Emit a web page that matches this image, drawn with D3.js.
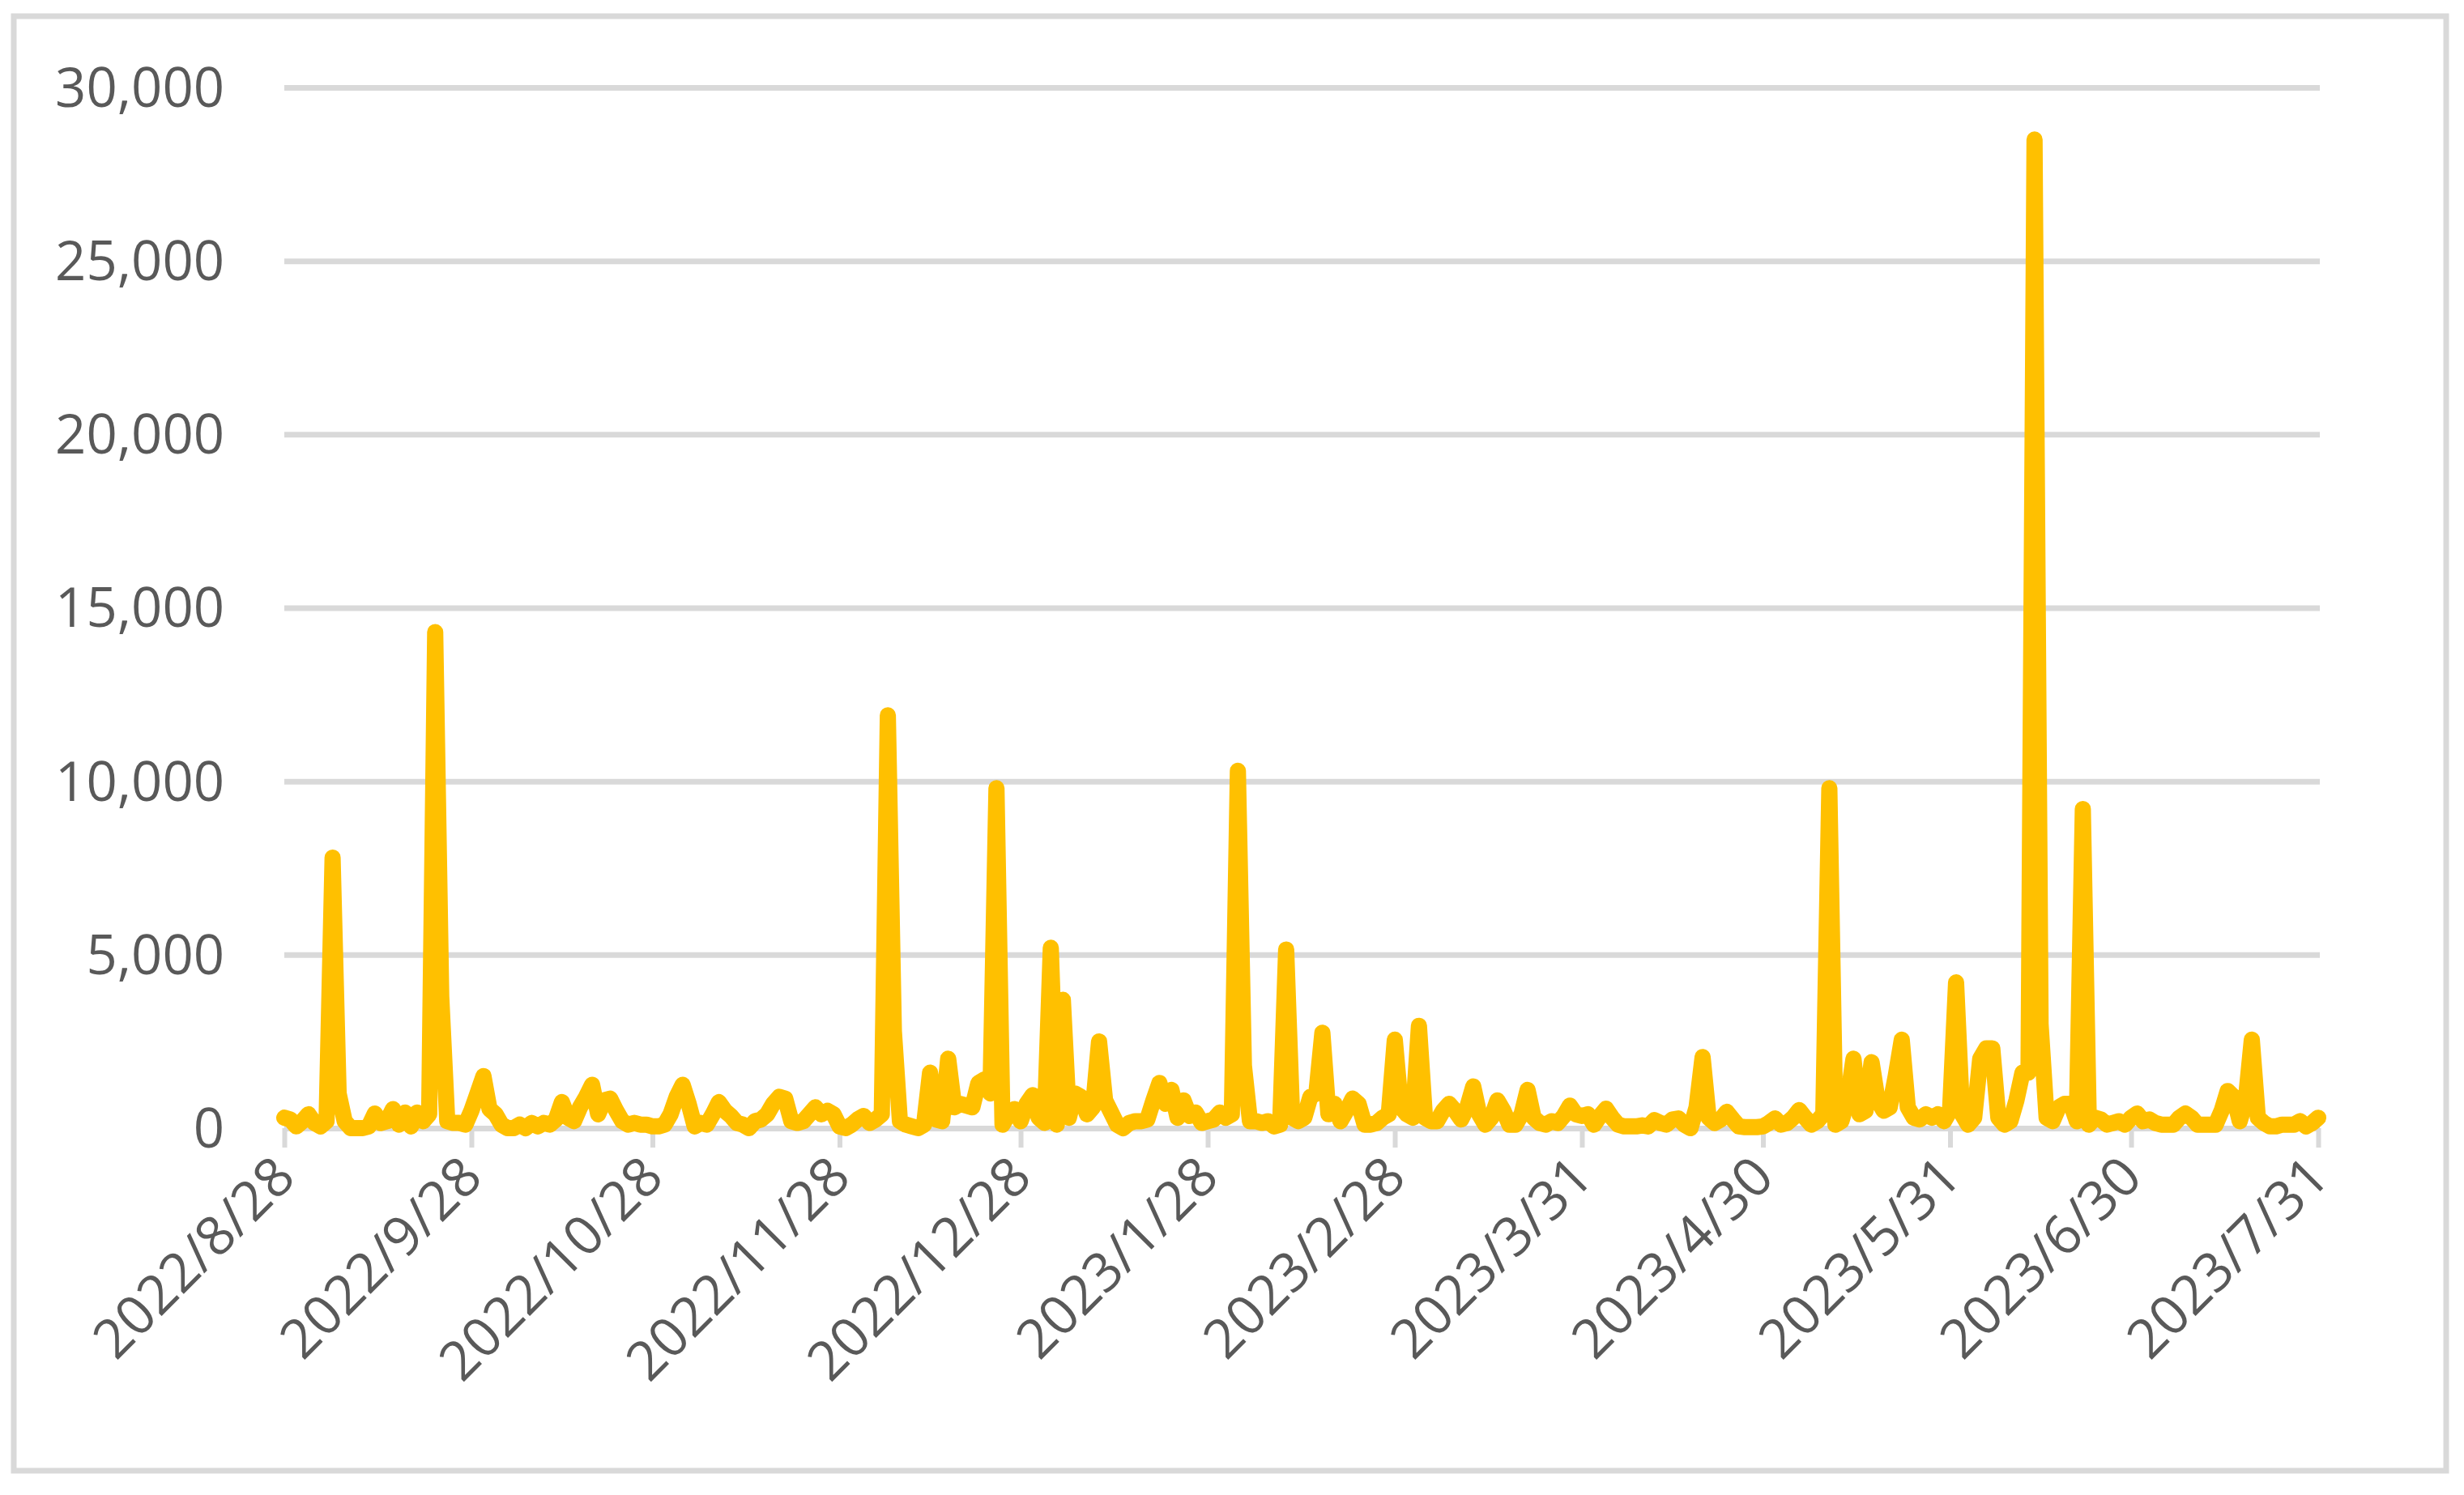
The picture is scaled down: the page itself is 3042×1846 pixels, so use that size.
<!DOCTYPE html>
<html>
<head>
<meta charset="utf-8">
<script src="https://cdn.jsdelivr.net/npm/d3@7"></script>
<style>
  html, body { margin: 0; padding: 0; background: #fff; }
  svg { display: block; }
  text { font-family: "Open Sans", "Noto Sans", sans-serif; fill: #595959; }
</style>
</head>
<body>
<svg id="chart-svg"></svg>
<script>
// daily values, first day is 2022/8/28, last day is 2023/7/31
const start_day = "2022/8/28";
const daily_values = [
    300, 250, 50, 200, 400, 150, 50, 200, 7800, 1000,
    200, 0, 0, 0, 50, 420, 150, 200, 550, 100,
    450, 50, 450, 200, 400, 14300, 3800, 200, 150, 150,
    100, 500, 1000, 1500, 550, 400, 100, 0, 0, 100,
    0, 150, 50, 150, 100, 250, 750, 300, 200, 600,
    900, 1250, 400, 800, 850, 500, 200, 100, 150, 100,
    100, 50, 50, 100, 400, 900, 1250, 700, 50, 150,
    100, 400, 750, 500, 350, 150, 100, 0, 200, 250,
    400, 700, 900, 850, 200, 150, 200, 400, 600, 400,
    500, 400, 50, 0, 100, 250, 350, 150, 250, 400,
    11900, 2800, 200, 100, 50, 0, 100, 1600, 250, 200,
    2000, 600, 700, 650, 600, 1300, 1400, 1000, 9800, 100,
    400, 550, 200, 700, 950, 300, 150, 5200, 100, 3700,
    300, 1000, 900, 400, 600, 2500, 800, 450, 100, 0,
    150, 200, 200, 250, 800, 1300, 700, 1100, 300, 800,
    350, 450, 150, 200, 250, 450, 300, 400, 10300, 1800,
    200, 200, 150, 200, 50, 100, 5150, 300, 200, 300,
    900, 1000, 2750, 400, 700, 200, 500, 850, 700, 100,
    100, 150, 300, 400, 2550, 600, 400, 300, 2950, 300,
    200, 200, 500, 700, 500, 250, 600, 1200, 400, 100,
    300, 800, 500, 100, 100, 400, 1100, 300, 150, 100,
    200, 150, 350, 650, 400, 350, 400, 100, 350, 560,
    300, 100, 50, 50, 50, 80, 50, 230, 150, 100,
    250, 280, 100, 0, 600, 2050, 300, 150, 250, 470,
    250, 50, 30, 30, 30, 50, 150, 280, 100, 150,
    300, 520, 300, 100, 200, 400, 9800, 100, 200, 800,
    2000, 400, 500, 1900, 800, 500, 600, 1500, 2550, 600,
    300, 250, 400, 300, 400, 200, 500, 4200, 400, 100,
    300, 2000, 2300, 2300, 300, 100, 200, 800, 1600, 1600,
    28500, 3000, 300, 200, 600, 700, 700, 200, 9200, 100,
    300, 250, 100, 150, 200, 100, 300, 420, 200, 250,
    150, 100, 100, 100, 300, 420, 300, 100, 100, 100,
    100, 500, 1070, 900, 200, 800, 2550, 300, 150, 50,
    50, 100, 100, 100, 200, 50, 150, 300
];
const x_tick_labels = [
    "2022/8/28", "2022/9/28", "2022/10/28", "2022/11/28", "2022/12/28", "2023/1/28",
    "2023/2/28", "2023/3/31", "2023/4/30", "2023/5/31", "2023/6/30", "2023/7/31"
];
const y_tick_values = [0, 5000, 10000, 15000, 20000, 25000, 30000];

function draw_chart() {
    let width = 3042;
    let height = 1846;
    let plot_left = 351;
    let plot_right = 2862;
    let plot_top = 108;
    let plot_bottom = 1393;
    let grid_color = "#D9D9D9";

    const parse_day = d3.timeParse("%Y/%m/%d");
    const format_day = d3.timeFormat("%Y/%-m/%-d");
    const first_day = parse_day(start_day);

    const data = daily_values.map((v, i) => ({date: d3.timeDay.offset(first_day, i), value: v}));
    const tick_dates = x_tick_labels.map(parse_day);

    const svg = d3.select("#chart-svg")
        .attr("width", width)
        .attr("height", height)
        .attr("viewBox", [0, 0, width, height]);

    // chart border
    svg.append("rect")
        .attr("x", 17)
        .attr("y", 20)
        .attr("width", 3003)
        .attr("height", 1796)
        .attr("fill", "#fff")
        .attr("stroke", grid_color)
        .attr("stroke-width", 7);

    const x = d3.scaleTime()
        .domain(d3.extent(data, d => d.date))
        .range([plot_left, plot_right]);

    const y = d3.scaleLinear()
        .domain([0, 30000])
        .range([plot_bottom, plot_top]);

    // horizontal gridlines + y labels
    const y_axis = d3.axisLeft(y)
        .tickValues(y_tick_values)
        .tickFormat(d3.format(","))
        .tickSize(-(plot_right - plot_left + 2))
        .tickPadding(74);

    const y_g = svg.append("g")
        .attr("transform", `translate(${plot_left},0)`)
        .call(y_axis);
    y_g.select(".domain").remove();
    y_g.selectAll(".tick line")
        .attr("stroke", grid_color)
        .attr("stroke-width", 7);
    y_g.selectAll(".tick text")
        .attr("font-size", 67)
        .attr("dy", "0.35em");

    // x axis with month ticks
    const x_axis = d3.axisBottom(x)
        .tickValues(tick_dates)
        .tickFormat(format_day)
        .tickSize(24)
        .tickSizeOuter(0);

    const x_g = svg.append("g")
        .attr("transform", `translate(0,${plot_bottom})`)
        .call(x_axis);
    x_g.select(".domain").remove();
    x_g.selectAll(".tick line")
        .attr("stroke", grid_color)
        .attr("stroke-width", 6);
    x_g.selectAll(".tick text")
        .attr("font-size", 67)
        .attr("text-anchor", "end")
        .attr("y", 0)
        .attr("dy", 0)
        .attr("transform", "translate(16,64) rotate(-45)");

    // the series line
    const line = d3.line()
        .x(d => x(d.date))
        .y(d => y(d.value));

    svg.append("path")
        .datum(data)
        .attr("fill", "none")
        .attr("stroke", "#FFC000")
        .attr("stroke-width", 20)
        .attr("stroke-linejoin", "round")
        .attr("stroke-linecap", "round")
        .attr("d", line);
}

draw_chart();
</script>
</body>
</html>
